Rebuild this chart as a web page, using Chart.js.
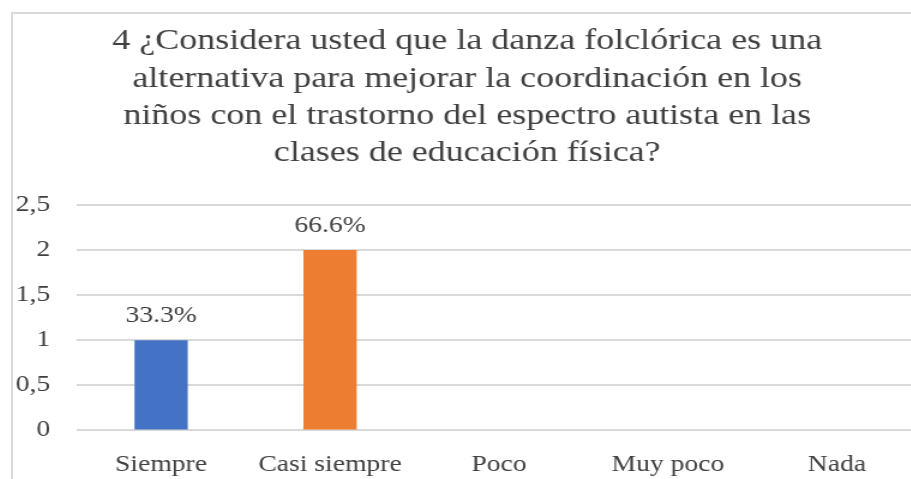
<!DOCTYPE html>
<html>
<head>
<meta charset="utf-8">
<script src="https://cdn.jsdelivr.net/npm/chart.js@4"></script>
<style>
  html, body { margin: 0; padding: 0; background: #fff; overflow: hidden; }
  #frame {
    position: absolute; left: 11px; top: 12px;
    width: 928px; height: 502px;
    border: 2px solid #d9d9d9;
    overflow: hidden;
  }
  /* el gráfico original está estirado en horizontal */
  #stretch {
    position: absolute; left: 0; top: 0;
    width: 773px; height: 502px;
    transform: scaleX(1.2);
    transform-origin: 0 0;
  }
  #chart { display: block; width: 773px; height: 502px; }
</style>
</head>
<body>
<div id="frame"><div id="stretch"><canvas id="chart" width="773" height="502"></canvas></div></div>
<script>
// datos
const categories = ['Siempre', 'Casi siempre', 'Poco', 'Muy poco', 'Nada'];
const values = [1, 2, 0, 0, 0];
const valueLabels = ['33.3%', '66.6%', '', '', ''];
const barColors = ['#4472C4', '#ED7D31', '#A5A5A5', '#FFC000', '#5B9BD5'];
const yTickLabels = ['0', '0,5', '1', '1,5', '2', '2,5'];
const titleLines = [
    '4 ¿Considera usted que la danza folclórica es una',
    'alternativa para mejorar la coordinación en los',
    'niños con el trastorno del espectro autista en las',
    'clases de educación física?'
];

const serif = "'Liberation Serif', 'Times New Roman', serif";
const textColor = '#404040';

// etiquetas encima de las barras
const barLabels = {
    id: 'barLabels',
    afterDatasetsDraw(chart) {
        const ctx = chart.ctx;
        const meta = chart.getDatasetMeta(0);
        ctx.save();
        ctx.font = '23px ' + serif;
        ctx.fillStyle = textColor;
        ctx.textAlign = 'center';
        ctx.textBaseline = 'alphabetic';
        meta.data.forEach((bar, i) => {
            if (!valueLabels[i]) return;
            ctx.fillText(valueLabels[i], bar.x, bar.y - 18);
        });
        ctx.restore();
    }
};

const ctx = document.getElementById('chart').getContext('2d');
const myChart = new Chart(ctx, {
    type: 'bar',
    data: {
        labels: categories,
        datasets: [{
            data: values,
            backgroundColor: barColors,
            borderWidth: 0,
            categoryPercentage: 1,
            barPercentage: 0.315
        }]
    },
    options: {
        responsive: false,
        maintainAspectRatio: false,
        animation: false,
        layout: { padding: { left: 0, right: 16, top: 0, bottom: 16 } },
        plugins: {
            legend: { display: false },
            tooltip: { enabled: false },
            title: {
                display: true,
                text: titleLines,
                color: textColor,
                font: { family: serif, size: 30, weight: 'normal', lineHeight: 1.24 },
                padding: { top: 9, bottom: 33 }
            }
        },
        scales: {
            x: {
                grid: { display: false, drawTicks: false },
                border: { display: false },
                ticks: {
                    color: textColor,
                    font: { family: serif, size: 23 },
                    padding: 21
                }
            },
            y: {
                min: 0,
                max: 2.5,
                afterFit(scale) { scale.width = 53; },
                grid: { color: '#d9d9d9', lineWidth: 2, drawTicks: false },
                border: { display: false },
                ticks: {
                    stepSize: 0.5,
                    color: textColor,
                    font: { family: serif, size: 23 },
                    padding: 22,
                    callback: (v, i) => yTickLabels[i]
                }
            }
        }
    },
    plugins: [barLabels]
});
</script>
</body>
</html>
